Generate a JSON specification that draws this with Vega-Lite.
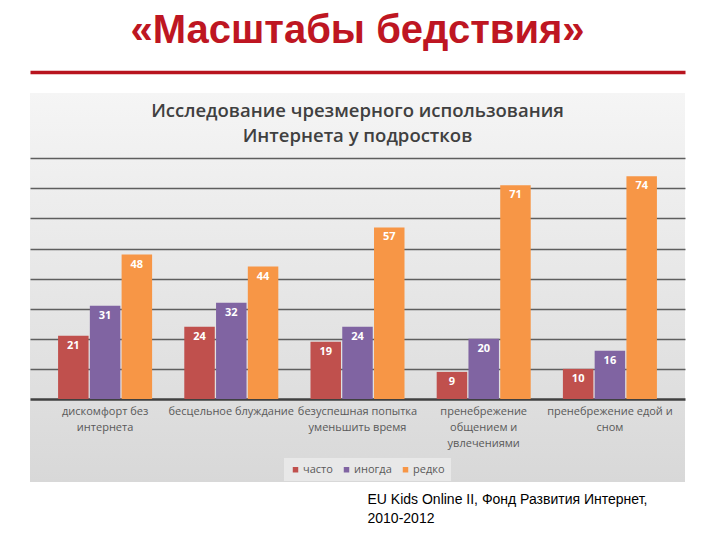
{
  "$schema": "https://vega.github.io/schema/vega-lite/v6.json",
  "autosize": {"type": "none"},
  "width": 655,
  "height": 389,
  "padding": {"left": 30, "top": 93, "right": 35, "bottom": 58},
  "background": "#ffffff",
  "config": {
    "view": {
      "stroke": null,
      "fill": {"gradient": "linear", "x1": 0, "y1": 0, "x2": 0, "y2": 1, "stops": [{"offset": 0, "color": "#f5f5f5"}, {"offset": 1, "color": "#d8d8d8"}]}
    }
  },
  "title": {
    "text": "«Масштабы бедствия»",
    "subtitle": ["Исследование чрезмерного использования", "Интернета у подростков"],
    "anchor": "middle",
    "frame": "group",
    "font": "Liberation Sans",
    "fontSize": 40,
    "fontWeight": "bold",
    "color": "#be1622",
    "subtitleFont": "Open Sans",
    "subtitleFontSize": 18.5,
    "subtitleFontWeight": 600,
    "subtitleColor": "#404040",
    "subtitleLineHeight": 24.5,
    "subtitlePadding": 51,
    "offset": -73
  },
  "data": {
    "values": [
      {"category": "дискомфорт без интернета", "series": "часто", "value": 21},
      {"category": "дискомфорт без интернета", "series": "иногда", "value": 31},
      {"category": "дискомфорт без интернета", "series": "редко", "value": 48},
      {"category": "бесцельное блуждание", "series": "часто", "value": 24},
      {"category": "бесцельное блуждание", "series": "иногда", "value": 32},
      {"category": "бесцельное блуждание", "series": "редко", "value": 44},
      {"category": "безуспешная попытка уменьшить время", "series": "часто", "value": 19},
      {"category": "безуспешная попытка уменьшить время", "series": "иногда", "value": 24},
      {"category": "безуспешная попытка уменьшить время", "series": "редко", "value": 57},
      {"category": "пренебрежение общением и увлечениями", "series": "часто", "value": 9},
      {"category": "пренебрежение общением и увлечениями", "series": "иногда", "value": 20},
      {"category": "пренебрежение общением и увлечениями", "series": "редко", "value": 71},
      {"category": "пренебрежение едой и сном", "series": "часто", "value": 10},
      {"category": "пренебрежение едой и сном", "series": "иногда", "value": 16},
      {"category": "пренебрежение едой и сном", "series": "редко", "value": 74}
    ]
  },
  "encoding": {
    "xOffset": {"field": "series", "type": "nominal", "sort": ["часто", "иногда", "редко"], "scale": {"paddingInner": 0.04, "paddingOuter": 0}},
    "y": {
      "field": "value",
      "type": "quantitative",
      "scale": {"domain": [-27.6, 101.7], "nice": false, "zero": false},
      "axis": {"title": null, "labels": false, "ticks": false, "domain": false, "grid": true, "values": [10, 20, 30, 40, 50, 60, 70, 80], "gridColor": "#5e5e5e", "gridWidth": 1.6}
    }
  },
  "layer": [
    {
      "mark": {"type": "bar"},
      "encoding": {
        "x": {
          "field": "category",
          "type": "nominal",
          "sort": ["дискомфорт без интернета", "бесцельное блуждание", "безуспешная попытка уменьшить время", "пренебрежение общением и увлечениями", "пренебрежение едой и сном"],
          "scale": {"paddingInner": 0.255, "paddingOuter": 0.2225},
          "axis": {
            "orient": "bottom",
            "offset": -83,
            "title": ["EU Kids Online II, Фонд Развития Интернет,", "2010-2012"],
            "titleX": 337,
            "titleY": 93,
            "titleAlign": "left",
            "titleAnchor": "start",
            "titleBaseline": "top",
            "titleFont": "Liberation Sans",
            "titleFontSize": 14,
            "titleFontWeight": "normal",
            "titleColor": "#000000",
            "titleLineHeight": 19,
            "labelAngle": 0,
            "labelFont": "Open Sans",
            "labelFontSize": 11,
            "labelColor": "#595959",
            "labelPadding": 6,
            "labelLineHeight": 16,
            "labelOverlap": false,
            "labelLimit": 0,
            "labelBound": false,
            "labelExpr": "datum.label == 'дискомфорт без интернета' ? ['дискомфорт без', 'интернета'] : datum.label == 'безуспешная попытка уменьшить время' ? ['безуспешная попытка', 'уменьшить время'] : datum.label == 'пренебрежение общением и увлечениями' ? ['пренебрежение', 'общением и', 'увлечениями'] : datum.label == 'пренебрежение едой и сном' ? ['пренебрежение едой и', 'сном'] : datum.label",
            "ticks": false,
            "grid": false,
            "domainColor": "#404040",
            "domainWidth": 2.5
          }
        },
        "color": {
          "field": "series",
          "type": "nominal",
          "sort": ["часто", "иногда", "редко"],
          "scale": {"domain": ["часто", "иногда", "редко"], "range": ["#c0504d", "#8064a2", "#f79646"]},
          "legend": {
            "title": null,
            "orient": "none",
            "legendX": 254,
            "legendY": 365,
            "direction": "horizontal",
            "symbolType": "square",
            "symbolSize": 30,
            "symbolStrokeWidth": 0,
            "symbolOpacity": 1,
            "labelFont": "Open Sans",
            "labelFontSize": 11,
            "labelColor": "#595959",
            "labelOffset": 2,
            "columnPadding": 8,
            "padding": 6,
            "fillColor": "#e8e8e8"
          }
        }
      }
    },
    {
      "mark": {"type": "text", "baseline": "top", "dy": 4, "color": "#ffffff", "font": "Open Sans", "fontSize": 11, "fontWeight": "bold"},
      "encoding": {
        "x": {
          "field": "category",
          "type": "nominal",
          "sort": ["дискомфорт без интернета", "бесцельное блуждание", "безуспешная попытка уменьшить время", "пренебрежение общением и увлечениями", "пренебрежение едой и сном"],
          "axis": {"orient": "top", "offset": 21, "labels": false, "ticks": false, "grid": false, "title": null, "domainColor": "#b8141e", "domainWidth": 3.5}
        },
        "text": {"field": "value", "type": "quantitative"}
      }
    }
  ],
  "resolve": {"axis": {"x": "independent"}}
}
